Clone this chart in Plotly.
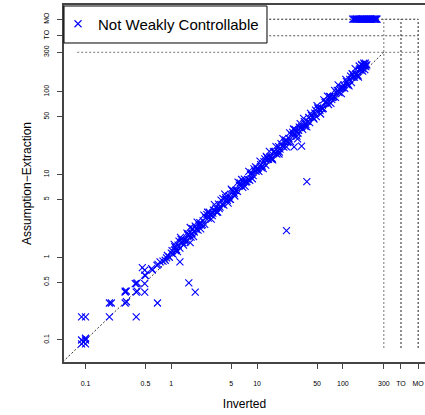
import plotly.graph_objects as go

# special axis positions (time-out / memory-out)
TO_VAL = 475.5
MO_VAL = 753.6
LINE_START = 0.08
LIMIT = 300

x_tickvals = [0.1, 0.5, 1, 5, 10, 50, 100, 300, TO_VAL, MO_VAL]
x_ticktext = ["0.1", "0.5", "1", "5", "10", "50", "100", "300", "TO", "MO"]
y_tickvals = [0.1, 0.5, 1, 5, 10, 50, 100, 300, TO_VAL, MO_VAL]
y_ticktext = ["0.1", "0.5", "1", "5", "10", "50", "100", "300", "TO", "MO"]

# low-runtime points (sparse)
low_x = [0.09, 0.1, 0.09, 0.1, 0.095, 0.1, 0.09, 0.1, 0.19, 0.19, 0.2, 0.29, 0.3,
         0.29, 0.3, 0.29, 0.39, 0.4, 0.39, 0.4, 0.38, 0.49, 0.49, 0.5, 0.49, 0.59,
         0.6, 0.68, 0.7, 0.74, 0.8, 0.46, 0.85, 0.9, 0.95, 0.88]
low_y = [0.09, 0.09, 0.1, 0.1, 0.095, 0.105, 0.19, 0.19, 0.19, 0.28, 0.28, 0.28, 0.29,
         0.38, 0.39, 0.39, 0.38, 0.39, 0.48, 0.49, 0.48, 0.48, 0.61, 0.6, 0.70, 0.73,
         0.7, 0.80, 0.82, 0.88, 0.9, 0.75, 0.92, 1.05, 1.0, 0.98]

# main band close to the diagonal
band_x = [1.0, 1.05, 1.1, 1.15, 1.2, 1.26, 1.3, 1.36, 1.42, 1.5, 1.55, 1.62, 1.7, 1.78,
          1.85, 1.95, 2.05, 2.15, 2.25, 2.35, 2.45, 2.6, 2.7, 2.85, 3.0, 3.1, 3.25, 3.4,
          3.55, 3.7, 3.9, 4.1, 4.3, 4.5, 4.7, 4.9, 5.1, 5.4, 5.6, 5.9, 6.2, 6.5, 6.8,
          7.1, 7.4, 7.8, 8.2, 8.6, 9.0, 9.5,
          1.02, 1.12, 1.23, 1.33, 1.46, 1.58, 1.74, 1.9, 2.1, 2.3, 2.52, 2.77, 3.05,
          3.32, 3.62, 4.0, 4.4, 4.8, 5.25, 5.75, 6.35, 6.95, 7.6, 8.4, 9.2, 9.8,
          1.08, 1.18, 1.28, 1.39, 1.52, 1.66, 1.82, 2.0, 2.2, 2.4, 2.65, 2.92, 3.18,
          3.48, 3.8, 4.2, 4.6, 5.0, 5.5, 6.0, 6.6, 7.25, 8.0, 8.8, 9.6,
          10, 10.5, 11, 11.5, 12, 12.6, 13, 13.6, 14.2, 15, 15.5, 16.2, 17, 17.8, 18.5,
          19.5, 20.5, 21.5, 22.5, 23.5, 24.5, 26, 27, 28.5, 30, 31, 32.5, 34, 35.5, 37,
          39, 41, 43, 45, 47, 49, 51, 54, 56, 59, 62, 65, 68, 71, 74, 78, 82, 86, 90, 95,
          10.2, 11.2, 12.3, 13.3, 14.6, 15.8, 17.4, 19, 21, 23, 25.2, 27.7, 30.5, 33.2,
          36.2, 40, 44, 48, 52.5, 57.5, 63.5, 69.5, 76, 84, 92, 98,
          10.8, 11.8, 12.8, 13.9, 15.2, 16.6, 18.2, 20, 22, 24, 26.5, 29.2, 31.8, 34.8,
          38, 42, 46, 50, 55, 60, 66, 72.5, 80, 88, 96,
          100, 105, 110, 115, 120, 126, 130, 136, 142, 150, 155, 162, 170, 178, 185, 190,
          102, 112, 123, 133, 146, 158, 168, 176, 183, 155, 165, 175, 185,
          108, 118, 128, 139, 152, 166, 180]
band_y = [1.12, 1.09, 1.34, 1.24, 1.40, 1.29, 1.64, 1.50, 1.63, 1.59, 1.86, 1.83, 1.75, 2.21,
          2.02, 2.18, 2.13, 2.62, 2.43, 2.75, 2.50, 3.28, 2.97, 3.28, 3.18, 3.72, 3.67, 3.50,
          4.40, 4.03, 4.37, 4.26, 5.25, 4.86, 5.50, 5.00, 6.43, 5.94, 6.44, 6.25, 7.44, 7.35, 7.00,
          8.80, 8.07, 8.74, 8.53, 10.5, 9.72, 11.1,
          1.20, 1.20, 1.57, 1.52, 1.53, 1.91, 1.93, 2.38, 2.44, 2.48, 3.00, 3.52, 3.42,
          3.92, 3.87, 5.12, 5.02, 5.04, 6.35, 6.38, 7.94, 8.06, 8.21, 10.0, 11.7, 11.0,
          1.43, 1.17, 1.74, 1.40, 1.96, 2.29, 1.78, 2.66, 2.20, 3.24, 3.50, 2.89, 4.32,
          3.51, 4.90, 5.80, 4.51, 6.65, 5.50, 8.10, 8.71, 7.18, 10.9, 8.89, 12.4,
          11.5, 10.9, 13.2, 12.6, 14.3, 13.0, 16.1, 15.2, 16.5, 15.7, 18.8, 18.1, 17.6, 21.8, 20.3,
          22.0, 21.4, 26.0, 24.5, 27.3, 25.2, 32.4, 29.9, 32.5, 31.6, 37.4, 36.8, 35.1, 43.6, 40.5,
          43.9, 42.5, 52.0, 48.8, 55.3, 50.2, 63.7, 59.6, 64.1, 62.8, 74.1, 73.8, 70.2, 87.5, 80.9,
          87.1, 85.5, 104, 97.6, 110,
          11.9, 12.1, 15.5, 15.3, 15.4, 19.0, 19.2, 23.6, 24.5, 24.9, 30.1, 35.0, 34.3, 38.0,
          38.2, 48.9, 49.3, 60.1, 61.2, 62.3, 75.8, 88.0, 85.3, 97.5, 107, 112,
          14.5, 11.8, 16.6, 19.0, 15.0, 21.7, 18.6, 27.2, 21.6, 31.9, 35.5, 29.2, 41.3, 47.7,
          37.6, 55.0, 46.9, 68.0, 53.9, 79.8, 88.4, 72.5, 104, 121, 95,
          112, 110, 133, 124, 141, 129, 162, 150, 163, 158, 184, 183, 178, 215, 201, 212,
          120, 121, 155, 152, 155, 190, 190, 205, 222, 205, 215, 222, 210,
          141, 118, 166, 190, 150, 210, 185]

# points clearly off the diagonal
out_x = [0.39, 0.69, 0.49, 1.26, 1.6, 1.9, 1.66, 18, 27, 29.6, 33, 38, 22]
out_y = [0.19, 0.28, 0.38, 0.88, 0.49, 0.38, 1.5, 17.7, 21.6, 27, 22, 8.2, 2.1]

# runs that hit the memory-out on the y side
mo_x = [130, 134, 138, 142, 146, 150, 155, 160, 165, 170, 175, 180, 186, 192, 198,
        204, 210, 216, 222, 228, 234, 240, 246, 250, 144, 168, 188, 212, 236]

x_all = low_x + band_x + out_x + mo_x
y_all = low_y + band_y + out_y + [MO_VAL] * len(mo_x)

FONT = "Liberation Sans, Arial, Helvetica, sans-serif"

fig = go.Figure()
fig.add_trace(go.Scatter(
    x=x_all, y=y_all, mode="markers", name="Not Weakly Controllable",
    marker=dict(symbol="x-thin", size=7, color="#0000ff",
                line=dict(color="#0000ff", width=1.1)),
    showlegend=True,
))

dash = "2px,2px"
shapes = []
# diagonal
shapes.append(dict(type="line", xref="x", yref="y", x0=0.04, y0=0.04, x1=LIMIT, y1=LIMIT,
                   line=dict(color="#333333", width=1, dash=dash), layer="below"))
for v, col in [(LIMIT, "#777777"), (TO_VAL, "#555555"), (MO_VAL, "#222222")]:
    shapes.append(dict(type="line", xref="x", yref="y", x0=LINE_START, x1=MO_VAL, y0=v, y1=v,
                       line=dict(color=col, width=1, dash=dash), layer="below"))
for v, col in [(LIMIT, "#777777"), (TO_VAL, "#222222"), (MO_VAL, "#222222")]:
    shapes.append(dict(type="line", xref="x", yref="y", y0=LINE_START, y1=MO_VAL, x0=v, x1=v,
                       line=dict(color=col, width=1, dash=dash), layer="below"))
# legend frame
shapes.append(dict(type="rect", xref="paper", yref="paper", x0=0, x1=0.5623,
                   y0=0.8936, y1=0.9972, fillcolor="white",
                   line=dict(color="black", width=1), layer="above"))

fig.update_layout(
    width=425, height=415,
    margin=dict(l=64, r=0, t=5, b=53),
    paper_bgcolor="white", plot_bgcolor="white",
    font=dict(family=FONT, color="black"),
    shapes=shapes,
    showlegend=True,
    legend=dict(x=-0.0166, y=0.993, xanchor="left", yanchor="top", xref="paper", yref="paper",
                bgcolor="rgba(0,0,0,0)", borderwidth=0,
                font=dict(size=15, family=FONT)),
    xaxis=dict(type="log", range=[-1.2506, 2.957], tickmode="array",
               tickvals=x_tickvals, ticktext=x_ticktext,
               ticks="outside", ticklen=5, tickcolor="#444444", tickwidth=1,
               showline=True, linecolor="#444444", linewidth=1.5, mirror=True,
               showgrid=False, zeroline=False, ticklabelstandoff=9,
               tickfont=dict(size=7, family=FONT),
               title=dict(text="Inverted", font=dict(size=12, family=FONT), standoff=13)),
    yaxis=dict(type="log", range=[-1.266, 3.049], tickmode="array",
               tickvals=y_tickvals, ticktext=y_ticktext, tickangle=-90,
               ticks="outside", ticklen=5, tickcolor="#444444", tickwidth=1,
               showline=True, linecolor="#444444", linewidth=1.5, mirror=False,
               showgrid=False, zeroline=False, ticklabelstandoff=5,
               tickfont=dict(size=7, family=FONT),
               title=dict(text="Assumption\u2212Extraction", font=dict(size=12, family=FONT),
                          standoff=9)),
)

fig.write_html("out.html")
